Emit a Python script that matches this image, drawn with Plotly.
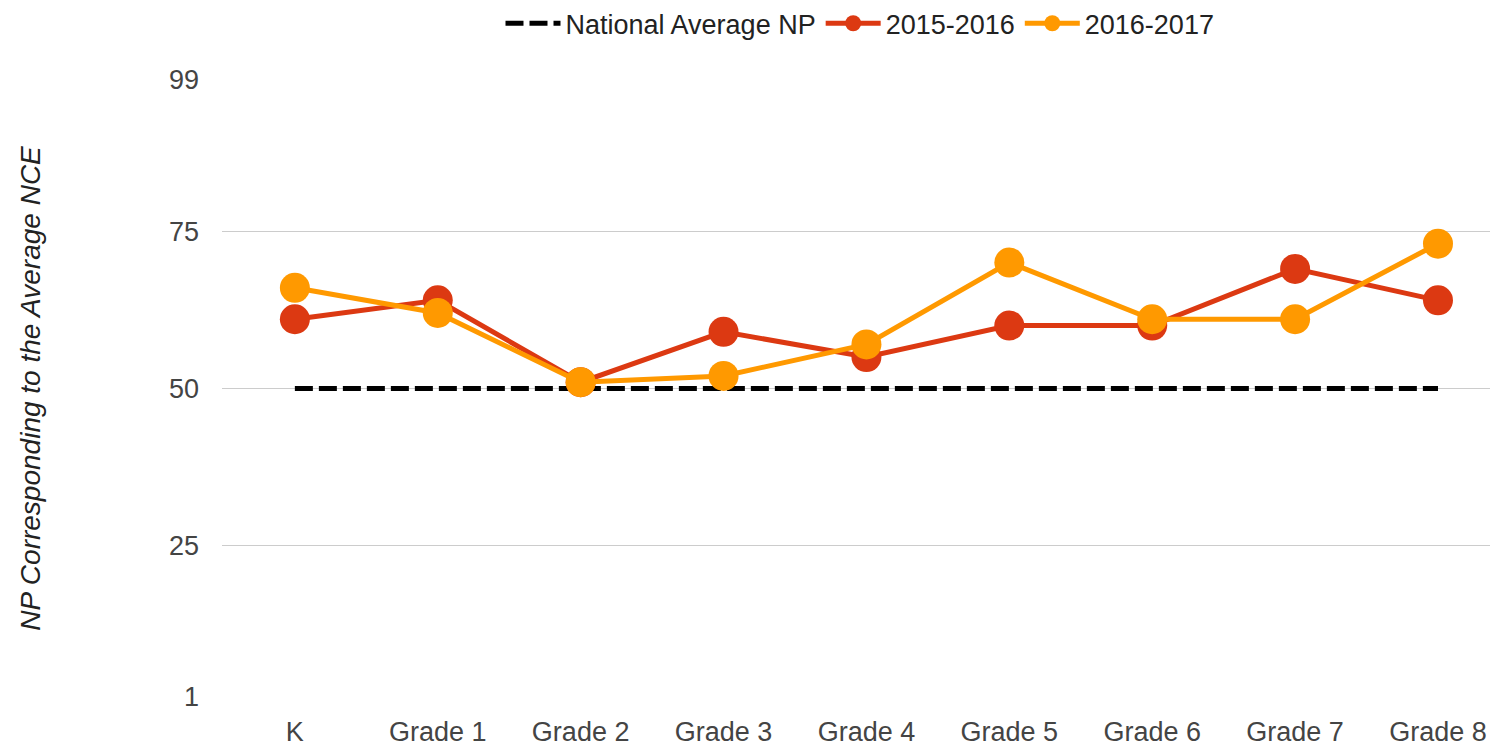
import plotly.graph_objects as go

categories = ["K", "Grade 1", "Grade 2", "Grade 3", "Grade 4", "Grade 5", "Grade 6", "Grade 7", "Grade 8"]
national_avg = [50, 50, 50, 50, 50, 50, 50, 50, 50]
y2015_2016 = [61, 64, 51, 59, 55, 60, 60, 69, 64]
y2016_2017 = [66, 62, 51, 52, 57, 70, 61, 61, 73]
y_ticks = [1, 25, 50, 75, 99]

FONT = "Liberation Sans, Arial, sans-serif"

fig = go.Figure()
fig.add_trace(go.Scatter(
    x=categories, y=national_avg, name="National Average NP", mode="lines",
    line=dict(color="#000000", width=5, dash="18px,6px"),
))
fig.add_trace(go.Scatter(
    x=categories, y=y2015_2016, name="2015-2016", mode="lines+markers",
    line=dict(color="#dc3912", width=5),
    marker=dict(color="#dc3912", size=30),
))
fig.add_trace(go.Scatter(
    x=categories, y=y2016_2017, name="2016-2017", mode="lines+markers",
    line=dict(color="#ff9900", width=5),
    marker=dict(color="#ff9900", size=30),
))

fig.update_layout(
    width=1498, height=747,
    margin=dict(l=214, r=8, t=72, b=58),
    paper_bgcolor="white", plot_bgcolor="white",
    font=dict(family=FONT, size=27, color="#444444"),
    showlegend=True,
    legend=dict(
        orientation="h", x=0.5, xanchor="center",
        yref="container", y=0.979, yanchor="middle",
        font=dict(family=FONT, size=27, color="#222222"),
        itemwidth=55, bgcolor="rgba(0,0,0,0)",
    ),
    xaxis=dict(
        type="category", range=[-0.51, 8.42],
        showgrid=False, zeroline=False, showline=False,
        ticks="", ticklabelstandoff=16,
        tickfont=dict(family=FONT, size=27, color="#444444"),
    ),
    yaxis=dict(
        range=[1, 99], tickvals=y_ticks,
        showgrid=True, gridcolor="#cccccc", gridwidth=1,
        zeroline=False, showline=False, ticks="", ticklabelstandoff=22,
        tickfont=dict(family=FONT, size=27, color="#444444"),
        title=dict(
            text="<i>NP Corresponding to the Average NCE</i>",
            font=dict(family=FONT, size=28, color="#222222"),
            standoff=120,
        ),
    ),
)

fig.write_html("out.html")
